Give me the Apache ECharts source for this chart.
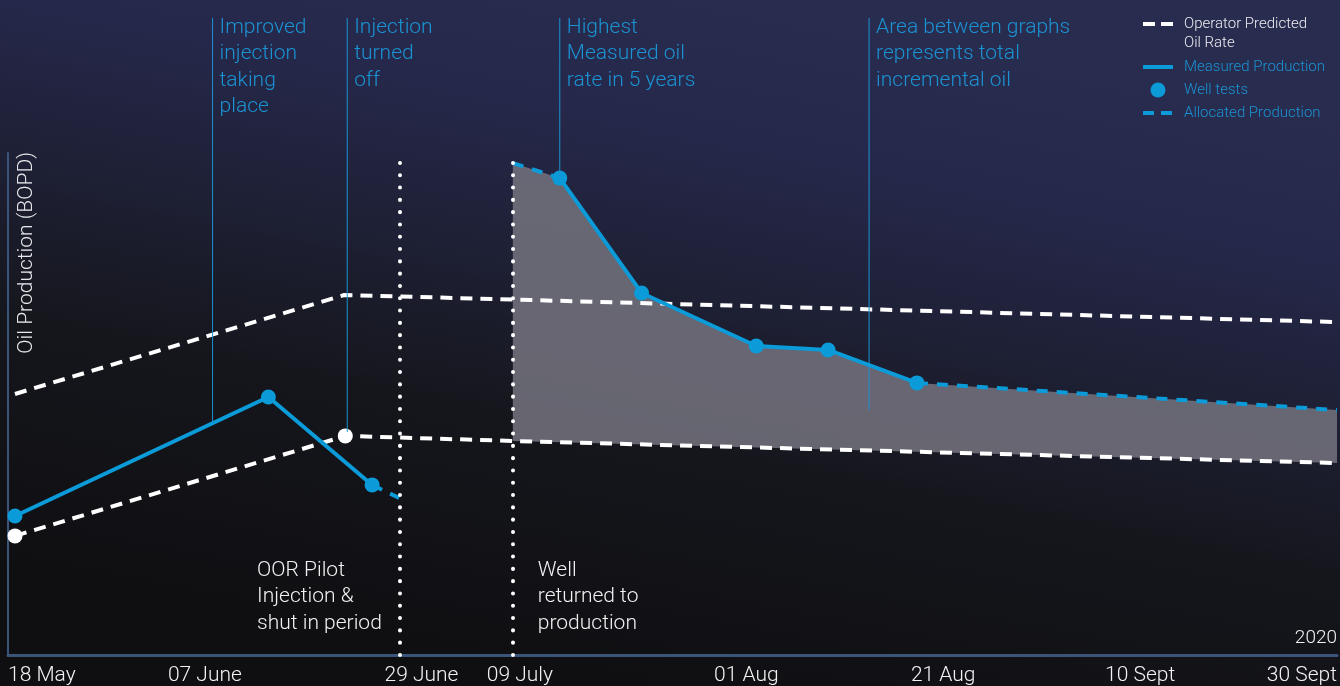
<!DOCTYPE html>
<html>
<head>
<meta charset="utf-8">
<script src="https://cdn.jsdelivr.net/npm/echarts@6/dist/echarts.min.js"></script>
<style>
  html, body { margin: 0; padding: 0; background: #131319; }
  #chart { width: 1340px; height: 686px; }
</style>
</head>
<body>
<div id="chart"></div>
<script>
// x: days after 18 May 2020, y: oil rate (BOPD, unlabelled scale)
const tickDays = [0, 20, 42, 52, 75, 95, 115, 135];
const tickLabels = ['18 May', '07 June', '29 June', '09 July', '01 Aug', '21 Aug', '10 Sept', '30 Sept'];

// Operator predicted oil rate (upper and lower bounds)
const predictedUpper = [[0.71, 130.0], [34.15, 179.3], [135, 165.8]];
const predictedLower = [[0.71, 59.3], [34.26, 109.1], [51.28, 106.6], [135, 95.6]];
const predictedPoints = [[0.71, 59.3], [34.26, 109.1]];

// Measured / allocated production
const measuredPre = [[0.71, 69.2], [26.45, 128.5], [36.99, 84.7]];
const allocatedPre = [[36.99, 84.7], [39.73, 78.2]];
const allocatedReturn = [[51.28, 245.0], [56.05, 237.5]];
const measuredPost = [[56.05, 237.5], [64.36, 180.3], [76.01, 153.9], [83.31, 151.9], [92.33, 135.5]];
const allocatedForecast = [[92.33, 135.5], [135, 122.0]];
const wellTests = [[0.71, 69.2], [26.45, 128.5], [36.99, 84.7], [56.05, 237.5], [64.36, 180.3], [76.01, 153.9], [83.31, 151.9], [92.33, 135.5]];

// Shut-in period boundaries
const shutInDays = [39.83, 51.28];

// Callouts: text, the day they point at and the rate where the leader ends
const callouts = [
  { text: 'Improved\ninjection\ntaking\nplace', day: 20.78, value: 115.4 },
  { text: 'Injection\nturned\noff', day: 34.46, value: 111.1 },
  { text: 'Highest\nMeasured oil\nrate in 5 years', day: 56.05, value: 237.5 },
  { text: 'Area between graphs\nrepresents total\nincremental oil', day: 87.47, value: 122.0 }
];

const BLUE = '#0b9bd9';
const BLUE_TEXT = '#1b93d3';
const WHITE = '#ffffff';
const FONT = 'Roboto, "Liberation Sans", sans-serif';

// Incremental oil region: measured/allocated above, predicted lower bound below
const returnDay = allocatedReturn[0][0];
const incrementalOutline = []
  .concat(allocatedReturn, measuredPost.slice(1), allocatedForecast.slice(1))
  .concat(predictedLower.filter(p => p[0] >= returnDay).reverse());

const chart = echarts.init(document.getElementById('chart'), null, { renderer: 'canvas' });

chart.setOption({
  animation: false,
  backgroundColor: {
    type: 'linear', x: 0.55, y: 0, x2: 0.45, y2: 1,
    colorStops: [
      { offset: 0, color: '#282c4f' },
      { offset: 0.2, color: '#25284a' },
      { offset: 0.42, color: '#1e2035' },
      { offset: 0.65, color: '#15161c' },
      { offset: 1, color: '#0f0f12' }
    ]
  },
  grid: { left: 8, right: 0, top: 153, bottom: 31 },
  xAxis: {
    type: 'value', min: 0, max: 135,
    axisLine: { show: true, lineStyle: { color: '#3a5579', width: 3 } },
    axisTick: { show: false },
    splitLine: { show: false },
    axisLabel: {
      customValues: tickDays,
      formatter: v => tickLabels[tickDays.indexOf(v)] || '',
      color: '#f2f2f4', fontSize: 21, fontWeight: 300, fontFamily: FONT,
      margin: 10, alignMinLabel: 'left', alignMaxLabel: 'right'
    }
  },
  yAxis: {
    type: 'value', min: 0, max: 250,
    axisLine: { show: true, lineStyle: { color: '#3a5579', width: 2 } },
    axisTick: { show: false },
    axisLabel: { show: false },
    splitLine: { show: false }
  },
  series: [
    {
      name: 'Incremental oil', type: 'custom', z: 1, silent: true,
      data: [incrementalOutline[0]],
      renderItem: (params, api) => ({
        type: 'polygon',
        shape: { points: incrementalOutline.map(p => api.coord(p)) },
        style: { fill: 'rgba(114,113,124,0.88)' }
      })
    },
    {
      name: 'Operator Predicted Oil Rate', type: 'line', z: 2, data: predictedUpper,
      symbol: 'none', lineStyle: { color: WHITE, width: 4, type: [12, 8] }
    },
    {
      name: 'Operator Predicted Oil Rate', type: 'line', z: 2, data: predictedLower,
      symbol: 'none', lineStyle: { color: WHITE, width: 4, type: [12, 8] },
      markLine: {
        silent: true, symbol: 'none', label: { show: false },
        lineStyle: { color: WHITE, width: 4, type: [0.1, 12.2], cap: 'round' },
        data: shutInDays.map(d => ({ xAxis: d }))
      }
    },
    {
      name: 'Operator Predicted Oil Rate', type: 'scatter', z: 5, data: predictedPoints,
      symbolSize: 15, itemStyle: { color: WHITE, opacity: 1 }
    },
    {
      name: 'Measured Production', type: 'line', z: 3, data: measuredPre,
      symbol: 'none', lineStyle: { color: BLUE, width: 4 }
    },
    {
      name: 'Measured Production', type: 'line', z: 3, data: measuredPost,
      symbol: 'none', lineStyle: { color: BLUE, width: 4 }
    },
    {
      name: 'Allocated Production', type: 'line', z: 3, data: allocatedPre,
      symbol: 'none', lineStyle: { color: BLUE, width: 4, type: [11, 9] }
    },
    {
      name: 'Allocated Production', type: 'line', z: 3, data: allocatedReturn,
      symbol: 'none', lineStyle: { color: BLUE, width: 4, type: [11, 9] }
    },
    {
      name: 'Allocated Production', type: 'line', z: 3, data: allocatedForecast,
      symbol: 'none', lineStyle: { color: BLUE, width: 4, type: [11, 9] }
    },
    {
      name: 'Well tests', type: 'scatter', z: 5, data: wellTests,
      symbolSize: 15, itemStyle: { color: BLUE, opacity: 1 }
    }
  ]
});

// Annotations placed from the chart's own coordinate system
const toPx = p => chart.convertToPixel({ gridIndex: 0 }, p);
const gfx = [];
const calloutTop = 18;

callouts.forEach(c => {
  const end = toPx([c.day, c.value]);
  gfx.push({
    type: 'line', silent: true, z: 10,
    shape: { x1: end[0], y1: calloutTop, x2: end[0], y2: end[1] },
    style: { stroke: BLUE_TEXT, lineWidth: 1 }
  });
  gfx.push({
    type: 'text', silent: true, z: 10, x: end[0] + 7, y: 14,
    style: { text: c.text, fill: BLUE_TEXT, font: '300 21px ' + FONT, lineHeight: 26.5, verticalAlign: 'top' }
  });
});

const shutStart = toPx([shutInDays[0], 0])[0];
const shutEnd = toPx([shutInDays[1], 0])[0];
gfx.push({
  type: 'text', silent: true, z: 10, x: shutStart - 143, y: 557,
  style: { text: 'OOR Pilot\nInjection &\nshut in period', fill: '#f2f2f4', font: '300 21px ' + FONT, lineHeight: 26.5, verticalAlign: 'top' }
});
gfx.push({
  type: 'text', silent: true, z: 10, x: shutEnd + 25, y: 557,
  style: { text: 'Well\nreturned to\nproduction', fill: '#f2f2f4', font: '300 21px ' + FONT, lineHeight: 26.5, verticalAlign: 'top' }
});

// Axis title and year
gfx.push({
  type: 'text', silent: true, z: 10, x: 27, y: 152, rotation: Math.PI / 2,
  style: { text: 'Oil Production (BOPD)', fill: '#e8e8ec', font: '300 21px ' + FONT, align: 'right', verticalAlign: 'middle' }
});
gfx.push({
  type: 'text', silent: true, z: 10, x: 1337, y: 638,
  style: { text: '2020', fill: '#f2f2f4', font: '300 19px ' + FONT, align: 'right', verticalAlign: 'middle' }
});

// Legend
const lgX = 1143, lgTextX = 1184;
gfx.push({ type: 'line', silent: true, z: 10, shape: { x1: lgX, y1: 24, x2: lgX + 30, y2: 24 }, style: { stroke: WHITE, lineWidth: 4, lineDash: [12, 6] } });
gfx.push({ type: 'text', silent: true, z: 10, x: lgTextX, y: 14, style: { text: 'Operator Predicted\nOil Rate', fill: '#ececf0', font: '300 15px ' + FONT, lineHeight: 19.5, verticalAlign: 'top' } });
gfx.push({ type: 'line', silent: true, z: 10, shape: { x1: lgX, y1: 67, x2: lgX + 30, y2: 67 }, style: { stroke: BLUE, lineWidth: 4 } });
gfx.push({ type: 'text', silent: true, z: 10, x: lgTextX, y: 67, style: { text: 'Measured Production', fill: BLUE_TEXT, font: '300 15px ' + FONT, verticalAlign: 'middle' } });
gfx.push({ type: 'circle', silent: true, z: 10, shape: { cx: lgX + 15, cy: 90, r: 7.5 }, style: { fill: BLUE } });
gfx.push({ type: 'text', silent: true, z: 10, x: lgTextX, y: 90, style: { text: 'Well tests', fill: BLUE_TEXT, font: '300 15px ' + FONT, verticalAlign: 'middle' } });
gfx.push({ type: 'line', silent: true, z: 10, shape: { x1: lgX, y1: 113, x2: lgX + 30, y2: 113 }, style: { stroke: BLUE, lineWidth: 4, lineDash: [11, 7] } });
gfx.push({ type: 'text', silent: true, z: 10, x: lgTextX, y: 113, style: { text: 'Allocated Production', fill: BLUE_TEXT, font: '300 15px ' + FONT, verticalAlign: 'middle' } });

chart.setOption({ graphic: gfx });
</script>
</body>
</html>
